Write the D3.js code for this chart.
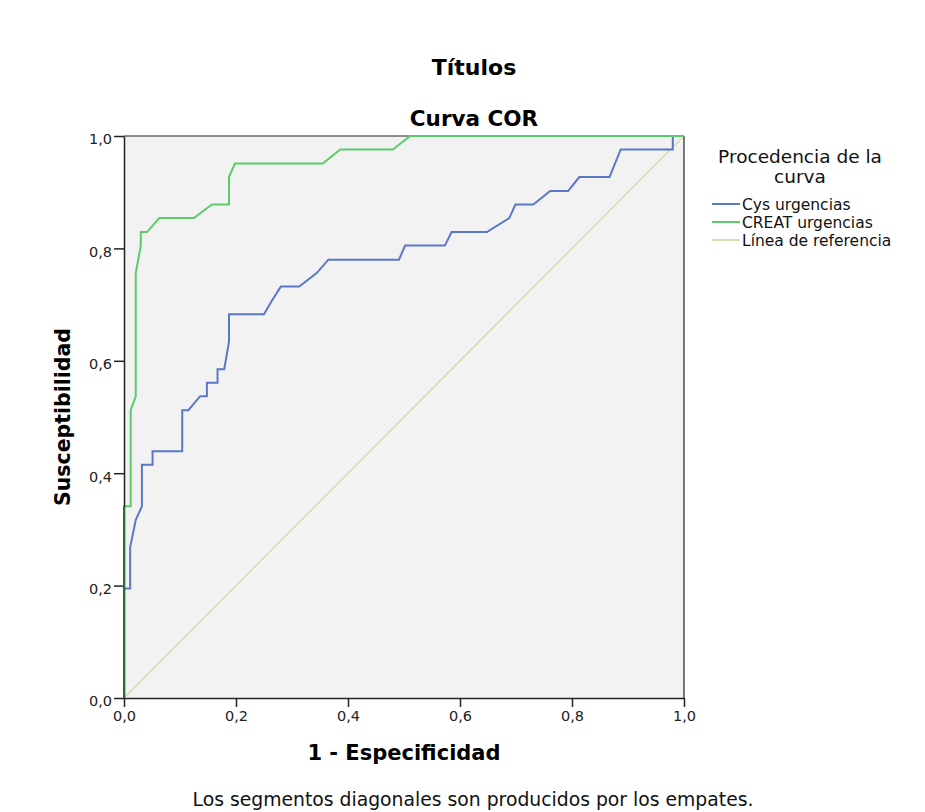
<!DOCTYPE html>
<html>
<head>
<meta charset="utf-8">
<script src="https://cdn.jsdelivr.net/npm/d3@7"></script>
<style>
  body { margin: 0; background: #fff; }
  svg text { font-family: "DejaVu Sans", Verdana, sans-serif; }
</style>
</head>
<body>
<svg id="chart" width="925" height="812"></svg>
<script>
// ROC curve points: 1 - specificity (fpr) and sensitivity (tpr)
const cysFpr = [0, 0, 0.011, 0.011, 0.021, 0.032, 0.032, 0.051, 0.051, 0.104, 0.104, 0.115, 0.136, 0.148, 0.148, 0.167, 0.167, 0.179, 0.1875, 0.1875, 0.25, 0.264, 0.28, 0.313, 0.344, 0.365, 0.491, 0.502, 0.573, 0.585, 0.648, 0.688, 0.699, 0.731, 0.761, 0.793, 0.813, 0.867, 0.887, 0.98, 0.98, 1];
const cysTpr = [0, 0.195, 0.195, 0.268, 0.317, 0.341, 0.415, 0.415, 0.439, 0.439, 0.512, 0.512, 0.537, 0.537, 0.561, 0.561, 0.585, 0.585, 0.634, 0.683, 0.683, 0.707, 0.732, 0.732, 0.756, 0.780, 0.780, 0.805, 0.805, 0.829, 0.829, 0.854, 0.878, 0.878, 0.902, 0.902, 0.927, 0.927, 0.976, 0.976, 1, 1];

const creatFpr = [0, 0, 0.012, 0.012, 0.021, 0.021, 0.030, 0.030, 0.041, 0.063, 0.125, 0.157, 0.1875, 0.1875, 0.198, 0.355, 0.386, 0.480, 0.511, 1];
const creatTpr = [0, 0.341, 0.341, 0.512, 0.537, 0.756, 0.805, 0.829, 0.829, 0.854, 0.854, 0.878, 0.878, 0.927, 0.951, 0.951, 0.976, 0.976, 1, 1];

const refFpr = [0, 1];
const refTpr = [0, 1];

const tickValues = [0, 0.2, 0.4, 0.6, 0.8, 1.0];
const tickLabels = ["0,0", "0,2", "0,4", "0,6", "0,8", "1,0"];

const seriesNames = ["Cys urgencias", "CREAT urgencias", "Línea de referencia"];
const seriesColors = ["#5a78c8", "#5ccb6c", "#dcdab0"];

const svg = d3.select("#chart");
const plotLeft = 124, plotRight = 684, plotTop = 136, plotBottom = 698;

const x = d3.scaleLinear().domain([0, 1]).range([plotLeft, plotRight]);
const y = d3.scaleLinear().domain([0, 1]).range([plotBottom, plotTop]);

// plot background
svg.append("rect")
  .attr("x", plotLeft).attr("y", plotTop)
  .attr("width", plotRight - plotLeft).attr("height", plotBottom - plotTop)
  .attr("fill", "#f2f2f2");

const line = d3.line().x(d => x(d[0])).y(d => y(d[1]));

const series = [
  d3.zip(cysFpr, cysTpr),
  d3.zip(creatFpr, creatTpr),
  d3.zip(refFpr, refTpr)
];

// reference line first, then curves
svg.append("path").datum(series[2])
  .attr("d", line).attr("fill", "none")
  .attr("stroke", seriesColors[2]).attr("stroke-width", 1.5);

svg.append("path").datum(series[0])
  .attr("d", line).attr("fill", "none")
  .attr("stroke", seriesColors[0]).attr("stroke-width", 2);

// frame (top and right)
svg.append("line").attr("x1", plotLeft).attr("x2", plotRight).attr("y1", plotTop).attr("y2", plotTop)
  .attr("stroke", "#222").attr("stroke-width", 1.2);
svg.append("line").attr("x1", plotRight).attr("x2", plotRight).attr("y1", plotTop).attr("y2", plotBottom)
  .attr("stroke", "#222").attr("stroke-width", 1.2);

svg.append("path").datum(series[1])
  .attr("d", line).attr("fill", "none")
  .attr("stroke", seriesColors[1]).attr("stroke-width", 2);

// axes
const xAxis = d3.axisBottom(x).tickValues(tickValues)
  .tickFormat((d, i) => tickLabels[i]).tickSize(9).tickSizeOuter(0);
const yAxis = d3.axisLeft(y).tickValues(tickValues)
  .tickFormat((d, i) => tickLabels[i]).tickSize(10).tickSizeOuter(0);

const gx = svg.append("g").attr("transform", `translate(0,${plotBottom})`).call(xAxis);
const gy = svg.append("g").attr("transform", `translate(${plotLeft},0)`).call(yAxis);

[gx, gy].forEach(g => {
  g.select(".domain").attr("stroke", "#222").attr("stroke-width", 1.5);
  g.selectAll(".tick line").attr("stroke", "#222").attr("stroke-width", 1.5);
  g.selectAll(".tick text")
    .attr("fill", "#222")
    .style("font-size", "14.5px")
    .style("font-family", '"DejaVu Sans", Verdana, sans-serif');
});
gx.selectAll(".tick text").attr("y", 13).attr("dy", "0.71em");
gy.selectAll(".tick text").attr("x", -12).attr("dy", "0.55em");

// overlay the green segment along the y axis
svg.append("line")
  .attr("x1", x(creatFpr[0])).attr("x2", x(creatFpr[1]))
  .attr("y1", y(creatTpr[0])).attr("y2", y(creatTpr[1]))
  .attr("stroke", "#2f6a3a").attr("stroke-width", 2);

// titles
svg.append("text").attr("x", 474).attr("y", 75)
  .attr("text-anchor", "middle").style("font-size", "22px").style("font-weight", "bold")
  .text("Títulos");
svg.append("text").attr("x", 474).attr("y", 126)
  .attr("text-anchor", "middle").style("font-size", "21.5px").style("font-weight", "bold")
  .text("Curva COR");

// axis titles
svg.append("text").attr("x", 404).attr("y", 760)
  .attr("text-anchor", "middle").style("font-size", "21px").style("font-weight", "bold")
  .text("1 - Especificidad");
svg.append("text")
  .attr("transform", "translate(70,417) rotate(-90)")
  .attr("text-anchor", "middle").style("font-size", "20.5px").style("font-weight", "bold")
  .text("Susceptibilidad");

// footnote
svg.append("text").attr("x", 473).attr("y", 806)
  .attr("text-anchor", "middle").style("font-size", "18.8px").attr("fill", "#111")
  .text("Los segmentos diagonales son producidos por los empates.");

// legend
const legend = svg.append("g");
legend.append("text").attr("x", 800).attr("y", 163)
  .attr("text-anchor", "middle").style("font-size", "18.5px").attr("fill", "#111")
  .text("Procedencia de la");
legend.append("text").attr("x", 800).attr("y", 183)
  .attr("text-anchor", "middle").style("font-size", "18.5px").attr("fill", "#111")
  .text("curva");

seriesNames.forEach((name, i) => {
  const yy = 204 + i * 18;
  legend.append("line")
    .attr("x1", 712).attr("x2", 740).attr("y1", yy).attr("y2", yy)
    .attr("stroke", seriesColors[i]).attr("stroke-width", 2);
  legend.append("text").attr("x", 742).attr("y", yy + 6)
    .style("font-size", "15.5px").attr("fill", "#111")
    .text(name);
});
</script>
</body>
</html>
